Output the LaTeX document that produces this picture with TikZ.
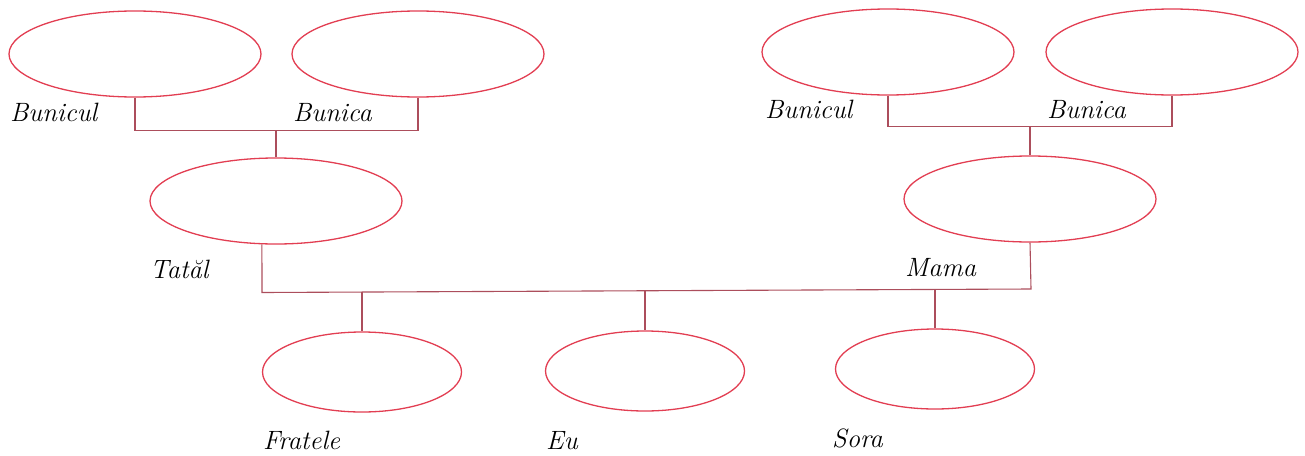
\documentclass[tikz,border=0pt]{standalone}
\usetikzlibrary{shapes.geometric}
\definecolor{ellred}{RGB}{226,62,82}
\definecolor{linered}{RGB}{172,78,92}
\begin{document}
\begin{tikzpicture}[x=1pt,y=-1pt,
  bigoval/.style={ellipse,draw=ellred,line width=1.3pt,minimum width=252pt,minimum height=86pt,inner sep=0pt},
  smalloval/.style={ellipse,draw=ellred,line width=1.3pt,minimum width=199pt,minimum height=80pt,inner sep=0pt},
  conn/.style={draw=linered,line width=1.1pt},
  lbl/.style={anchor=base west,inner sep=0pt,font=\fontsize{26.5}{30}\selectfont\itshape}]
\useasboundingbox (0,0) rectangle (1305,455);
% grandparents
\node[bigoval] (gp1) at (135,54) {};
\node[bigoval] (gp2) at (418,54) {};
\node[bigoval] (gp3) at (888,52) {};
\node[bigoval] (gp4) at (1172,52) {};
% parents
\node[bigoval] (tata) at (276,201) {};
\node[bigoval] (mama) at (1030,199) {};
% children
\node[smalloval] (fr) at (362,372) {};
\node[smalloval] (eu) at (645,371) {};
\node[smalloval] (so) at (935,369) {};
% labels
\node[lbl] (l1) at (10,121) {Bunicul};
\node[lbl] (l2) at (293,121) {Bunica};
\node[lbl] (l3) at (765,118) {Bunicul};
\node[lbl] (l4) at (1047,118) {Bunica};
\node[lbl] (l5) at (150,278) {Tatăl};
\node[lbl] (l6) at (905,276) {Mama};
\node[lbl] (l7) at (263,449) {Fratele};
\node[lbl] (l8) at (546,449) {Eu};
\node[lbl] (l9) at (832,447) {Sora};
% junction coordinates
\coordinate (jl) at (276,130.5);
\coordinate (jr) at (1030,126.5);
\coordinate (bl) at (262,292.5);
\coordinate (br) at (1031,289);
\coordinate (d1) at (362,292);
\coordinate (d2) at (645,291);
\coordinate (d3) at (935,290);
% connectors
\draw[conn] (gp1.south) |- (jl) -| (gp2.south);
\draw[conn] (jl) -- (tata.north);
\draw[conn] (gp3.south) |- (jr) -| (gp4.south);
\draw[conn] (jr) -- (mama.north);
\draw[conn] (tata.252) -- (bl) -- (br) -- (mama.south);
\draw[conn] (d1) -- (fr.north);
\draw[conn] (d2) -- (eu.north);
\draw[conn] (d3) -- (so.north);
\end{tikzpicture}
\end{document}
